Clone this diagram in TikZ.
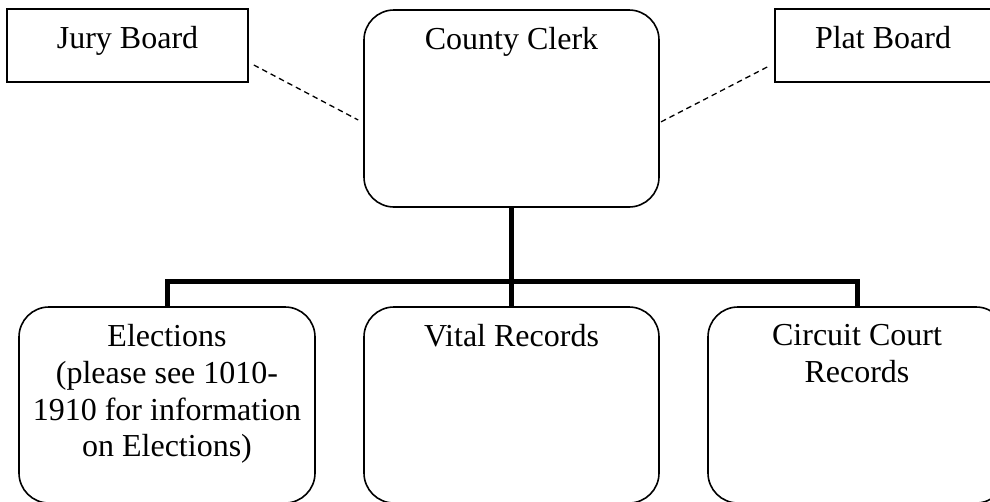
\documentclass[tikz,border=0pt]{standalone}
\usepackage{fontspec}
\setmainfont{Liberation Serif}
\begin{document}
\begin{tikzpicture}[x=1pt,y=-1pt,line join=miter]
  \tikzstyle{board}=[draw, line width=1.6pt, minimum height=73pt, inner sep=0pt]
  \tikzstyle{office}=[draw, line width=1.6pt, rounded corners=30pt, inner sep=0pt]
  \tikzstyle{lbl}=[font=\fontsize{32}{36.7}\selectfont, align=center, inner sep=0pt, anchor=north, yshift=-18pt]
  \tikzstyle{link}=[line width=1.3pt, dash pattern=on 5.5pt off 4pt]
  \tikzstyle{trunk}=[line width=5pt]

  \useasboundingbox (0,0) rectangle (990,501);
  \clip (0,0) rectangle (990,501);

  \node[board, minimum width=241pt] (jury) at (127.5,45.5) {};
  \node[board, minimum width=216pt] (plat) at (883,45.5) {};
  \node[office, minimum width=295pt, minimum height=197pt] (clerk) at (511.5,108.5) {};

  \node[office, minimum width=296pt, minimum height=196pt] (elect) at (167,405) {};
  \node[office, minimum width=295pt, minimum height=196pt] (vital) at (511.5,405) {};
  \node[office, minimum width=298pt, minimum height=196pt] (circ) at (857,405) {};

  % texts sit at the top of each box
  \node[lbl] (jurytxt) at (jury.north) {Jury Board};
  \node[lbl] (plattxt) at (plat.north) {Plat Board};
  \node[lbl] (clerktxt) at (clerk.north) {County Clerk};
  \node[lbl] (electtxt) at (elect.north) {Elections\\(please see 1010-\\1910 for information\\on Elections)};
  \node[lbl] (vitaltxt) at (vital.north) {Vital Records};
  \node[lbl] (circtxt) at (circ.north) {Circuit Court\\Records};

  \draw[link] ([xshift=5pt,yshift=-19.5pt]jury.east) -- ([xshift=-5pt,yshift=-11.5pt]clerk.west);
  \draw[link] ([xshift=-7pt,yshift=-21.5pt]plat.west) -- ([xshift=1pt,yshift=-13.5pt]clerk.east);

  \draw[trunk] (clerk.south) -- (vital.north);
  \draw[trunk] (elect.north) -- ++(0,-25) -| (circ.north);
\end{tikzpicture}
\end{document}
